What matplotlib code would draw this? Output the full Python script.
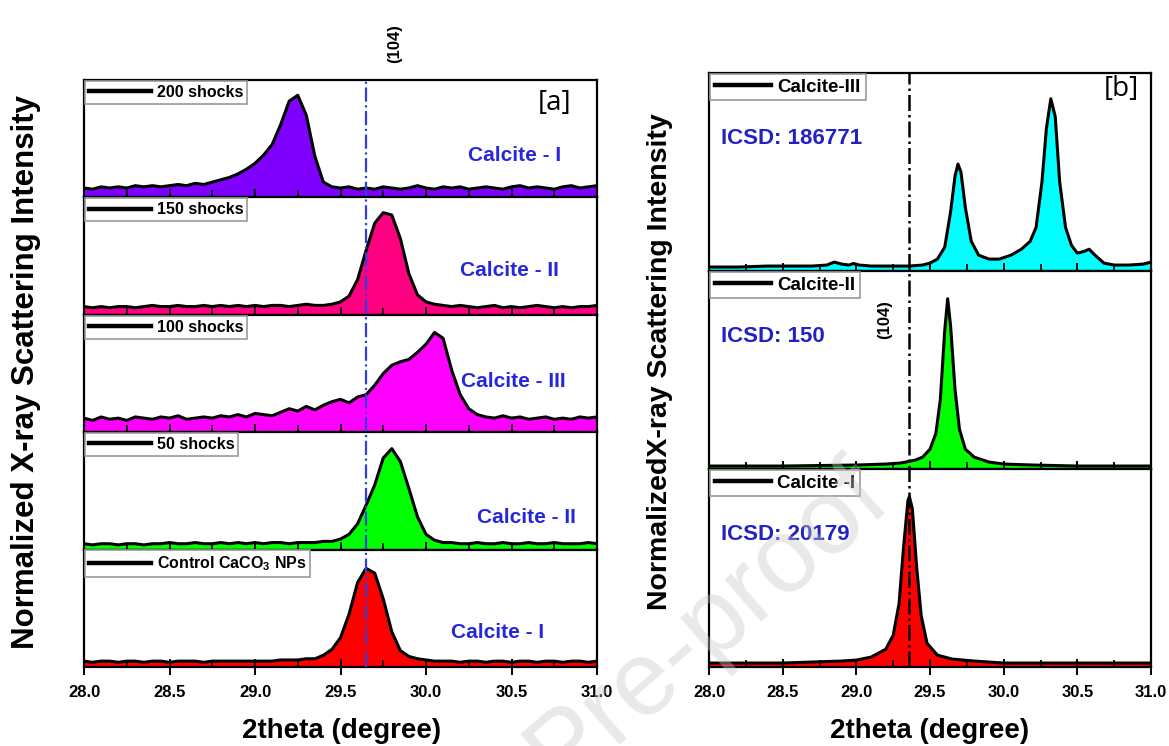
import numpy as np
import matplotlib
matplotlib.use("Agg")
import matplotlib.pyplot as plt

plt.rcParams['font.family'] = ['Liberation Sans', 'DejaVu Sans']
plt.rcParams['font.weight'] = 'bold'
plt.rcParams['mathtext.fontset'] = 'custom'
plt.rcParams['mathtext.rm'] = 'Liberation Sans:bold'
plt.rcParams['mathtext.default'] = 'rm'

# ---- panel [a] data: shared 2theta grid, 0.05 deg step ----
two_theta_a = np.round(np.arange(28.0, 31.0001, 0.05), 2)

shocks_200 = [0.08, 0.07, 0.09, 0.08, 0.09, 0.08, 0.10, 0.09, 0.10, 0.09,
              0.10, 0.11, 0.10, 0.12, 0.11, 0.13, 0.15, 0.17, 0.20, 0.24,
              0.29, 0.36, 0.45, 0.62, 0.82, 0.87, 0.70, 0.35, 0.13, 0.09,
              0.08, 0.09, 0.07, 0.08, 0.07, 0.09, 0.08, 0.07, 0.08, 0.10,
              0.08, 0.07, 0.09, 0.08, 0.09, 0.07, 0.08, 0.09, 0.08, 0.07,
              0.09, 0.10, 0.08, 0.09, 0.08, 0.07, 0.09, 0.10, 0.08, 0.09, 0.10]
shocks_150 = [0.07, 0.06, 0.07, 0.06, 0.07, 0.07, 0.06, 0.07, 0.08, 0.07,
              0.07, 0.08, 0.07, 0.07, 0.08, 0.07, 0.08, 0.07, 0.08, 0.07,
              0.08, 0.07, 0.08, 0.08, 0.07, 0.08, 0.09, 0.08, 0.08, 0.09,
              0.11, 0.16, 0.30, 0.55, 0.78, 0.87, 0.85, 0.65, 0.35, 0.17,
              0.11, 0.09, 0.08, 0.07, 0.08, 0.07, 0.06, 0.07, 0.08, 0.06,
              0.07, 0.06, 0.07, 0.08, 0.07, 0.06, 0.07, 0.06, 0.07, 0.07, 0.08]
shocks_100 = [0.12, 0.10, 0.13, 0.11, 0.12, 0.10, 0.13, 0.12, 0.11, 0.13,
              0.12, 0.14, 0.11, 0.12, 0.13, 0.12, 0.14, 0.13, 0.15, 0.13,
              0.16, 0.15, 0.14, 0.17, 0.20, 0.18, 0.22, 0.19, 0.23, 0.26,
              0.28, 0.25, 0.30, 0.32, 0.40, 0.50, 0.57, 0.60, 0.62, 0.68,
              0.75, 0.85, 0.80, 0.53, 0.32, 0.20, 0.15, 0.13, 0.12, 0.14,
              0.12, 0.13, 0.11, 0.12, 0.13, 0.11, 0.12, 0.11, 0.13, 0.12, 0.13]
shocks_50 = [0.05, 0.04, 0.05, 0.05, 0.04, 0.05, 0.05, 0.04, 0.05, 0.05,
             0.06, 0.05, 0.05, 0.06, 0.05, 0.05, 0.06, 0.05, 0.06, 0.05,
             0.06, 0.05, 0.06, 0.06, 0.05, 0.06, 0.06, 0.06, 0.07, 0.07,
             0.09, 0.13, 0.22, 0.38, 0.55, 0.78, 0.86, 0.75, 0.52, 0.28,
             0.13, 0.08, 0.06, 0.06, 0.05, 0.05, 0.06, 0.05, 0.05, 0.06,
             0.05, 0.05, 0.06, 0.05, 0.05, 0.06, 0.05, 0.05, 0.05, 0.06, 0.05]
control = [0.05, 0.04, 0.05, 0.05, 0.04, 0.05, 0.05, 0.04, 0.05, 0.05,
           0.04, 0.05, 0.05, 0.05, 0.04, 0.05, 0.05, 0.05, 0.05, 0.05,
           0.05, 0.05, 0.05, 0.06, 0.06, 0.06, 0.07, 0.07, 0.10, 0.15,
           0.25, 0.45, 0.72, 0.84, 0.80, 0.58, 0.30, 0.14, 0.09, 0.07,
           0.06, 0.05, 0.05, 0.05, 0.04, 0.05, 0.05, 0.04, 0.05, 0.05,
           0.04, 0.05, 0.05, 0.04, 0.05, 0.05, 0.04, 0.05, 0.05, 0.04, 0.05]

series_a = [shocks_200, shocks_150, shocks_100, shocks_50, control]
labels_a = ["200 shocks", "150 shocks", "100 shocks", "50 shocks",
            "Control CaCO$_3$ NPs"]
colors_a = ["#8000ff", "#ff0080", "#ff00ff", "#00ff00", "#ff0000"]
phases_a = ["Calcite - I", "Calcite - II", "Calcite - III", "Calcite - II", "Calcite - I"]
phase_pos_a = [(30.52, 0.36), (30.49, 0.38), (30.51, 0.43), (30.59, 0.27), (30.42, 0.29)]

# ---- panel [b] data: reference patterns ----
x_c3 = [28.0, 28.2, 28.4, 28.5, 28.7, 28.8, 28.85, 28.9, 28.95, 28.98, 29.02, 29.1,
        29.2, 29.3, 29.36, 29.45, 29.5, 29.55, 29.6, 29.64, 29.67, 29.69, 29.71,
        29.74, 29.78, 29.83, 29.9, 29.97, 30.05, 30.12, 30.18, 30.22, 30.26, 30.29,
        30.32, 30.35, 30.38, 30.42, 30.46, 30.5, 30.55, 30.58, 30.62, 30.68, 30.75,
        30.85, 30.95, 31.0]
calcite_3 = [0.02, 0.02, 0.025, 0.025, 0.025, 0.03, 0.045, 0.035, 0.03, 0.038, 0.03,
             0.025, 0.025, 0.025, 0.025, 0.03, 0.04, 0.06, 0.12, 0.30, 0.48, 0.54,
             0.50, 0.32, 0.15, 0.08, 0.06, 0.06, 0.08, 0.11, 0.15, 0.22, 0.45, 0.72,
             0.87, 0.78, 0.45, 0.22, 0.13, 0.09, 0.10, 0.11, 0.08, 0.04, 0.03, 0.03,
             0.035, 0.045]
x_c2 = [28.0, 28.5, 29.0, 29.2, 29.3, 29.4, 29.45, 29.5, 29.54, 29.57, 29.6, 29.62,
        29.64, 29.67, 29.7, 29.74, 29.8, 29.9, 30.0, 30.2, 30.5, 31.0]
calcite_2 = [0.015, 0.015, 0.02, 0.025, 0.03, 0.045, 0.06, 0.10, 0.18, 0.35, 0.70,
             0.86, 0.72, 0.40, 0.20, 0.10, 0.06, 0.035, 0.025, 0.02, 0.015, 0.015]
x_c1 = [28.0, 28.5, 28.9, 29.0, 29.1, 29.2, 29.25, 29.29, 29.32, 29.35, 29.36, 29.38,
        29.41, 29.44, 29.48, 29.55, 29.65, 29.8, 30.0, 31.0]
calcite_1 = [0.02, 0.02, 0.03, 0.035, 0.05, 0.09, 0.16, 0.32, 0.60, 0.84, 0.86, 0.80,
             0.50, 0.26, 0.12, 0.06, 0.04, 0.03, 0.02, 0.02]

series_b = [(x_c3, calcite_3), (x_c2, calcite_2), (x_c1, calcite_1)]
labels_b = ["Calcite-III", "Calcite-II", "Calcite -I"]
colors_b = ["#00ffff", "#00ff00", "#ff0000"]
icsd_b = ["ICSD: 186771", "ICSD: 150", "ICSD: 20179"]

peak_a = 29.65
peak_b = 29.36
xticks = [28.0, 28.5, 29.0, 29.5, 30.0, 30.5, 31.0]

W, H = 1169, 746
fig = plt.figure(figsize=(W / 100, H / 100), dpi=100)


def fx(px):
    return px / W


def fy(py):
    return 1 - py / H


def style_axis(ax, bottom):
    ax.set_xlim(28.0, 31.0)
    ax.set_ylim(0, 1)
    ax.set_yticks([])
    ax.set_xticks(xticks)
    ax.set_xticks(np.arange(28.25, 31.0, 0.5), minor=True)
    for s in ax.spines.values():
        s.set_linewidth(1.6)
    ax.tick_params(axis='x', which='major', direction='inout' if bottom else 'in',
                   length=12 if bottom else 6, width=1.4, labelsize=12, pad=7)
    ax.tick_params(axis='x', which='minor', direction='in', length=5, width=1.3)
    if bottom:
        ax.set_xticklabels([f"{t:.1f}" for t in xticks], fontweight='bold')
    else:
        ax.tick_params(axis='x', which='both', labelbottom=False)


def add_legend(ax, size, hlen):
    leg = ax.legend(loc='upper left', borderaxespad=0.05, fancybox=False, framealpha=1,
                    edgecolor='#999999', handlelength=hlen, handletextpad=0.35,
                    borderpad=0.25, prop={'weight': 'bold', 'size': size})
    leg.get_frame().set_linewidth(1.2)
    for ln in leg.get_lines():
        ln.set_linewidth(3.2)


# ---- panel [a] ----
left_a, right_a, top_a, bot_a = 84, 597, 80, 667
n_a = len(series_a)
h_a = (bot_a - top_a) / n_a
for i, (yv, lab, col, ph, pos) in enumerate(zip(series_a, labels_a, colors_a, phases_a, phase_pos_a)):
    y_top = top_a + i * h_a
    ax = fig.add_axes([fx(left_a), fy(y_top + h_a), fx(right_a - left_a), h_a / H])
    ax.fill_between(two_theta_a, 0, yv, color=col, lw=0)
    ax.plot(two_theta_a, yv, color='black', lw=2.2, label=lab)
    style_axis(ax, i == n_a - 1)
    add_legend(ax, 11.5, 3.9)
    ax.text(pos[0], pos[1], ph, color='#2626dd', fontsize=15, fontweight='bold',
            ha='center', va='center')
    if i == 0:
        ax.text(30.75, 0.80, "[a]", fontsize=20, fontweight='normal',
                family=['Open Sans', 'DejaVu Sans'], ha='center', va='center')

over_a = fig.add_axes([fx(left_a), fy(bot_a), fx(right_a - left_a), (bot_a - top_a) / H])
over_a.set_xlim(28.0, 31.0)
over_a.set_ylim(0, 1)
over_a.axis('off')
over_a.axvline(peak_a, color='#3040e0', ls='-.', lw=1.6)

fig.text(fx(395), fy(44), "(104)", rotation=90, fontsize=12, fontweight='bold',
         ha='center', va='center')
fig.text(fx(342), fy(731), "2theta (degree)", fontsize=20, fontweight='bold',
         ha='center', va='center')
fig.text(fx(26), fy(372), "Normalized X-ray Scattering Intensity", rotation=90,
         fontsize=22.5, fontweight='bold', ha='center', va='center')

# ---- panel [b] ----
left_b, right_b, top_b, bot_b = 709, 1151, 73, 667
n_b = len(series_b)
h_b = (bot_b - top_b) / n_b
for i, ((xv, yv), lab, col, icsd) in enumerate(zip(series_b, labels_b, colors_b, icsd_b)):
    y_top = top_b + i * h_b
    ax = fig.add_axes([fx(left_b), fy(y_top + h_b), fx(right_b - left_b), h_b / H])
    ax.fill_between(xv, 0, yv, color=col, lw=0)
    ax.plot(xv, yv, color='black', lw=2.2, label=lab)
    style_axis(ax, i == n_b - 1)
    add_legend(ax, 13.5, 3.0)
    ax.text(28.08, 0.67, icsd, color='#2222c4', fontsize=16, fontweight='bold',
            ha='left', va='center')
    if i == 0:
        ax.text(30.8, 0.92, "[b]", fontsize=20, fontweight='normal',
                family=['Open Sans', 'DejaVu Sans'], ha='center', va='center')

over_b = fig.add_axes([fx(left_b), fy(bot_b), fx(right_b - left_b), (bot_b - top_b) / H])
over_b.set_xlim(28.0, 31.0)
over_b.set_ylim(0, 1)
over_b.axis('off')
over_b.axvline(peak_b, color='black', ls='-.', lw=1.8)

fig.text(fx(885), fy(320), "(104)", rotation=90, fontsize=12, fontweight='bold',
         ha='center', va='center')
fig.text(fx(930), fy(731), "2theta (degree)", fontsize=20, fontweight='bold',
         ha='center', va='center')
fig.text(fx(660), fy(362), "NormalizedX-ray Scattering Intensity", rotation=90,
         fontsize=20.5, fontweight='bold', ha='center', va='center')

# faint watermark
fig.text(fx(892), fy(501), "Pre-proof", rotation=41, rotation_mode='anchor',
         fontsize=76, fontweight='normal', color='#c8c8c8', alpha=0.4,
         ha='right', va='baseline', zorder=10)

fig.savefig("out.png", dpi=100)
